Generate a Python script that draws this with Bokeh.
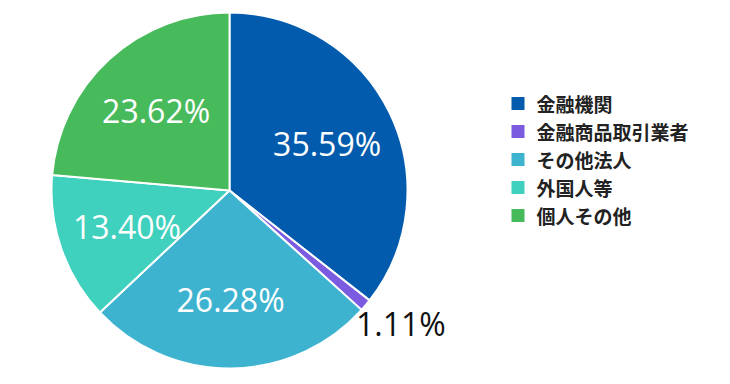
import math
from bokeh.plotting import figure
from bokeh.models import Range1d, ColumnDataSource
from bokeh.core.properties import value
from bokeh.embed import file_html
from bokeh.resources import INLINE

categories = ["金融機関", "金融商品取引業者", "その他法人", "外国人等", "個人その他"]
shares = [35.59, 1.11, 26.28, 13.40, 23.62]
colors = ["#025BAC", "#7B5CE0", "#3EB3D0", "#3FD0BE", "#47BA5B"]
labels = ["35.59%", "1.11%", "26.28%", "13.40%", "23.62%"]

W, H = 722, 376
p = figure(width=W, height=H, output_backend="svg", toolbar_location=None,
           x_range=Range1d(0, W), y_range=Range1d(0, H), min_border=0)
p.axis.visible = False
p.grid.visible = False
p.outline_line_color = None

cx, cy, R = 229, H - 190, 178
total = sum(shares)
starts, ends, lx, ly, tcol = [], [], [], [], []
cum = 0.0
for i, s in enumerate(shares):
    a0 = math.pi / 2 - cum / total * 2 * math.pi
    a1 = math.pi / 2 - (cum + s) / total * 2 * math.pi
    starts.append(a0)
    ends.append(a1)
    mid = (a0 + a1) / 2
    r = R * 1.2 if s < 5 else R * 0.61
    lx.append(cx + r * math.cos(mid) + (8 if s < 5 else 0))
    ly.append(cy + r * math.sin(mid) + (5 if s < 5 else 0))
    tcol.append("#111111" if s < 5 else "#ffffff")
    cum += s

src = ColumnDataSource(dict(start=starts, end=ends, color=colors, lx=lx, ly=ly,
                            label=labels, tcol=tcol, cat=categories))
p.wedge(x=cx, y=cy, radius=R, start_angle="start", end_angle="end",
        direction="clock", fill_color="color", line_color="white", line_width=2,
        source=src)
p.text(x="lx", y="ly", text="label", text_color="tcol", text_align="center",
       text_baseline="middle", text_font=value("Open Sans"), text_font_size="32px",
       source=src)

# legend
ys = [H - 103 - i * 28 for i in range(len(categories))]
lsrc = ColumnDataSource(dict(y=ys, color=colors, cat=categories))
p.rect(x=517.5, y="y", width=13, height=13, fill_color="color", line_color=None, source=lsrc)
p.text(x=536, y="y", text="cat", text_baseline="middle", text_align="left",
       text_font=value("Noto Sans CJK JP"), text_font_size="19px",
       text_font_style="bold", text_color="#222222", source=lsrc)

open("out.html", "w").write(file_html(p, INLINE))
